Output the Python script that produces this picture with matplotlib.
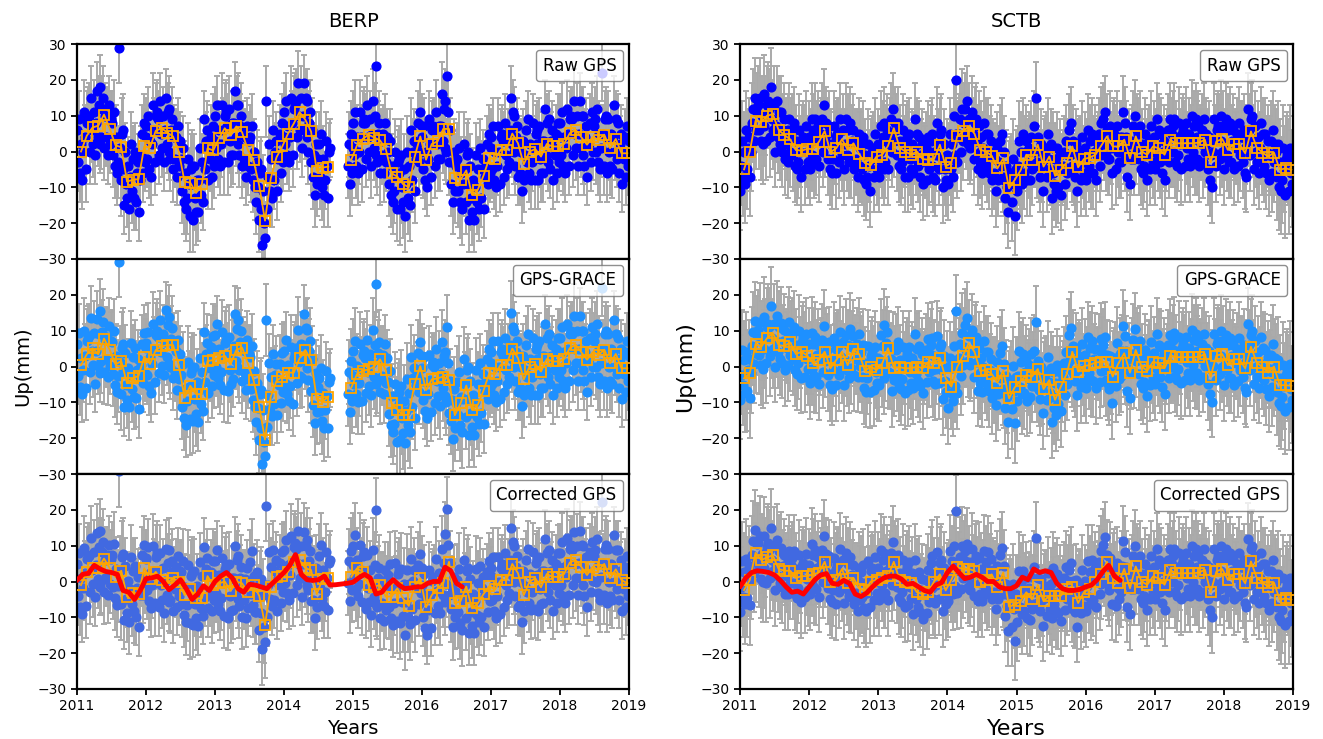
import numpy as np
import matplotlib
matplotlib.use('Agg')
import matplotlib.pyplot as plt
from matplotlib.lines import Line2D

nan = np.nan

# ---------------- monthly means (orange squares), months 1..96 from Jan 2011 ----------------
berp_raw_m = [0, 4.4, 6.7, 7.2, 10.3, 6.4, 1.7, 1.2, -8.4, -7.9,
              -7.7, 1.4, 1.1, 5.8, 6.5, 5.3, 4.2, 0, -8.4, -8.7,
              -11.5, -9.2, 0.9, 0.3, 3.7, 6.5, 4.5, 7, 5.4, 0.5,
              -2.5, -9.6, -19.3, -7.5, -1.6, 1.4, 5, 7.8, 11, 8.9,
              5.6, -5.4, -4.5, -4.2, nan, nan, nan, -2.3, 1.7, 3.5,
              4.7, 3.9, 3.1, 0.7, -6.1, -7, -9.1, -10, -1.6, 4.2,
              -2.3, 2.1, 2.8, 6.3, 6.3, -7.3, -7.9, -5.3, -12.1, -10.7,
              -6.7, -1.9, -2.1, 0.5, 0.5, 5, 2.3, -3.6, 0, 0.7,
              -1.4, 2.1, 1.4, 1.4, 2.1, 5.1, 6.1, 4, 1.9, 4,
              3.3, 4.7, 0.9, 3.5, -0.5, -0.5]
berp_gg_m = [0.4, 3.4, 5.1, 3.4, 7.8, 4.6, 0.6, 1.5, -4.7, -3.3,
             -2.6, 2.7, 0.7, 4.6, 5.6, 6, 6, 0.4, -8.7, -5.4,
             -7.7, -7.7, 1.5, 1.8, 2.5, 3, 0.6, 4.6, 5.3, 0.9,
             -3.8, -11.2, -20.4, -8.4, -4, -2.8, -1.7, -1.7, 2.3, 4.6,
             1.8, -9.1, -9.8, -8.4, nan, nan, nan, -5.9, -2.1, -1.2,
             -0.8, 0, 2, -1, -10.3, -12, -13.6, -13.4, -4.9, 0.1,
             -6.6, -3.6, -3.3, -2.8, -3.7, -13.6, -10.3, -5.3, -12.1, -10.7,
             -6.7, -1.9, -2.1, 0.5, 0.5, 5, 2.3, -3.6, 0, 0.7,
             -1.4, 2.1, 1.4, 1.4, 2.1, 5.1, 6.1, 4, 1.9, 4,
             3.3, 4.7, 0.9, 3.5, -0.5, -0.5]
berp_cor_m = [-1, 2.7, 3.9, 3.8, 6.4, 3.7, 1.2, 3, -4.2, -3.1,
              -3.5, 3.7, 0.6, 2.7, 0.4, -0.5, 0.9, 0, -3.8, -2.2,
              -4.7, -4.7, 1.5, -1, -0.5, 0, -2.6, 0, -0.5, -2.8,
              -1, -4, -12.1, -1.4, 1.3, 1.5, 2.7, 5.5, 6, 3.7,
              3.2, -3.5, 0.6, 0.9, nan, nan, nan, 1.3, 3.7, 2.7,
              -1, -1.4, -1, -4.2, -4.2, -1.9, -4.7, -6.8, -1.4, 0.9,
              -7.2, -3.8, -1.9, -0.5, 5.5, -6.1, -5.5, -1.4, -7.5, -6.1,
              -3.5, -1.3, -2.2, 0.4, 0.4, 4.9, 2.3, -3.8, 0, 0.9,
              -1.6, 2.1, 1.3, 1.3, 2.1, 5.3, 6, 4.1, 1.8, 4.1,
              3.2, 4.9, 0.9, 3.4, 0.4, -0.5]
sctb_raw_m = [-5.0, 0, 8.6, 8.2, 10, 10.4, 6, 4.6, 3.4, 0.5,
              0.2, 0.8, 0.6, 2.7, 5.7, -0.2, 0.9, 3.4, 0.5, 2.3,
              -0.8, -3.2, -3.8, -1.4, -0.9, 1.6, 6.5, 1.1, 0, -0.9,
              0, -2.1, -2.3, -2.1, 1.9, -4.2, -3.1, 4.2, 5.6, 7,
              5, 0.5, 0, -1.2, -4.7, -1.9, -10.3, -7.9, -5.3, -0.9,
              -2.3, 1.9, -4.2, -1.4, -6.8, -5.1, -3.1, 1.4, -4.4, -2.1,
              -1.7, -0.9, 1.6, 4.2, 1.4, 1.4, 3.3, -1.9, 4.2, 0,
              -0.9, 1.4, 0.9, -0.9, 3.1, 2.3, 2.3, 2.3, 2.3, 2.5,
              3.3, -3, 2.8, 3.5, 0.5, 2.1, 2.1, -0.5, 5.6, 1.1,
              -0.3, -1.4, -0.3, -5.1, -4.7, -5.1]
sctb_gg_m = [-3.3, -1.9, 6.3, 5.5, 7.9, 9.3, 6, 5.7, 6.7, 3.5,
             4.1, 3, 0.9, 1.8, 4.1, -0.5, 1.8, 4.1, 0.4, 4.8,
             3.4, -1.2, 0, -1, 0.9, 5.1, -0.3, -0.2, -0.5, -0.5,
             0, -0.5, 1.3, 0.9, 2.3, -3.3, -5.6, -0.2, 3, 6.5,
             4.1, -1.2, -1, -2.1, -4.5, -1.2, -8.9, -5.8, -4, -2.4,
             -2.8, -0.7, -6.3, -3.8, -9.3, -5.6, -2.1, 4.1, -1.4, 0.1,
             0.4, 1.1, 1.3, 1.3, -2.8, 0.9, 3.7, -1.7, 4.6, 0,
             -1.2, 1.3, 0.9, -0.5, 3, 2.6, 2.6, 2.6, 2.6, 2.7,
             3.5, -2.8, 3, 3.5, 0.4, 2, 2, -0.5, 5.5, 1.1,
             -0.2, -1.7, 0, -5.2, -5.2, -5.4]
sctb_cor_m = [-2.4, 0.4, 8, 6, 6.7, 7.3, 3.5, 3, 3, 1,
              1.5, 1.5, 2, 2.5, 5.5, 0, 0.5, 3.5, -0.5, 1,
              -2, -2.5, 0, 0.5, 1, 1.5, 5.5, 0.5, 0, -0.5,
              -3, -3.5, -3, 0, 2, -2.5, 0.5, 4, 3.5, 3.5,
              3, 0, 0.5, 2, -1.5, 2.5, -7, -6.5, -5.5, -3,
              -5, -1, -5.5, -4, -4, -4, -2, -1.5, -6, -3,
              -2, 0, 2, 5.5, 1, -0.5, 3.5, -1.9, 4.2, 0,
              -0.9, 1.4, 0.9, -0.9, 3.1, 2.3, 2.3, 2.3, 2.3, 2.5,
              3.3, -3, 2.8, 3.5, 0.5, 2.1, 2.1, -0.5, 5.6, 1.1,
              -0.3, -1.4, -0.3, -5.1, -4.7, -5.1]

# ---------------- red curves (monthly, from Jan 2011 to mid 2016) ----------------
berp_red = [0.3, 2, 2.3, 4.5, 3.5, 2.8, 2.5, 2, -2.5, -3,
            -5, -2.5, 0.8, 1, 1.5, 0, -2.3, -1, 0.5, -2,
            -5, -3.5, -1.2, -2.5, 0, 1.5, 2.5, 1, -2, -3,
            -0.8, -1, -1.5, -2, -0.5, 1, 2.5, 4.5, 7.5, 2,
            0.5, 0.3, 0.5, 1.5, -1, -0.9, -0.7, -0.5, -0.2, 1,
            2, 1, -3.5, -3, -1, 0.5, -1, -2, -1.8, -1.5,
            -1.5, -0.5, 0, 0, 4, 3, -0.5, -1.5]
sctb_red = [-1.5, 1, 2.5, 3, 2.8, 2.5, 1.8, 0.3, -1.5, -3,
            -2.7, -3.5, -1.5, 0.5, 1.8, 2.2, -0.5, -0.8, 0.3, -0.5,
            -3.5, -4.2, -3.2, -1.5, 0, 1, 1.5, 1.5, 0.7, -0.8,
            -0.5, -1.5, -2.5, -3, -1, -0.3, 2.5, 4.3, 2.5, 0.8,
            1.2, 2, 1.2, 0, 0, -1.5, -2, -2, -1.2, 1.2,
            0.5, 3.5, 2.5, 3, 2.5, -0.5, -2, -2.5, -2.5, -2.2,
            -1.5, -1, 0.5, 2.8, 4.5, 1.5, 0.3]

# ---------------- raw GPS samples (6 per month, mm) ----------------
berp_raw_pts = [
    [6, -3, 9, -6, 2, -8], [0, 11, 4, -5, 8, 9], [10, 0, 15, 6, 2, 11], [-1, 8, 17, 4, 13, 2],
    [18, 4, 12, 15, 1, 10], [4, 10, -1, 13, 2, 9], [8, -1, 11, -4, 4, -6], [-3, 29, 1, -8, 5, 6],
    [-5, -15, 0, -9, -13, -4], [-16, -7, 2, -11, -2, -13], [0, -14, -6, -3, -17, -8], [-1, 5, -6, 8, -3, 4],
    [7, -2, 10, -5, 3, -7], [2, 13, 6, -3, 10, 11], [9, -1, 14, 5, 1, 10], [-3, 6, 15, 2, 11, 0],
    [12, -2, 6, 9, -5, 4], [-2, 4, -7, 7, -4, 3], [-2, -11, 1, -14, -6, -16], [-13, -2, -9, -18, -5, -4],
    [-9, -19, -4, -13, -17, -8], [-17, -8, 1, -12, -3, -14], [9, -5, 3, 6, -8, 1], [-2, 4, -7, 7, -4, 3],
    [10, 1, 13, -2, 6, -4], [2, 13, 6, -3, 10, 11], [7, -3, 12, 3, -1, 8], [-1, 8, 17, 4, 13, 2],
    [13, -1, 7, 10, -4, 5], [-2, 4, -7, 7, -4, 3], [4, -5, 7, -8, 0, -10], [-14, -3, -10, -19, -6, -5],
    [-16, -26, -11, -20, -24, 14], [-16, -7, 2, -11, -2, -13], [6, -8, 0, 3, -11, -2], [-1, 5, -6, 8, -3, 4],
    [11, 2, 14, -1, 7, -3], [4, 15, 8, -1, 12, 13], [14, 4, 19, 10, 6, 15], [1, 10, 19, 6, 15, 4],
    [14, 0, 8, 11, -3, 6], [-7, -1, -12, 2, -9, -2], [2, -7, 5, -10, -2, -12], [-8, 3, -4, -13, 0, 1],
    [], [], [], [-4, 2, -9, 5, -6, 1],
    [8, -1, 11, -4, 4, -6], [0, 11, 4, -5, 8, 9], [8, -2, 13, 4, 0, 9], [-4, 5, 14, 1, 10, -1],
    [24, -3, 5, 8, -6, 3], [-1, 5, -6, 8, -3, 4], [0, -9, 3, -12, -4, -14], [-11, 0, -7, -16, -3, -2],
    [-6, -16, -1, -10, -14, -5], [-18, -9, 0, -13, -4, -15], [6, -8, 0, 3, -11, -2], [2, 8, -3, 11, 0, 7],
    [4, -5, 7, -8, 0, -10], [-2, 9, 2, -7, 6, 7], [6, -4, 11, 2, -2, 7], [-2, 7, 16, 3, 12, 1],
    [14, 0, 21, 11, -3, 6], [-9, -3, -14, 0, -11, -4], [-2, -11, 1, -14, -6, -16], [-9, 2, -5, -14, -1, 0],
    [-9, -19, -4, -13, -17, -8], [-19, -10, -1, -14, -5, -16], [1, -13, -5, -2, -16, -7], [-4, 2, -9, 5, -6, 1],
    [4, -5, 7, -8, 0, -10], [-4, 7, 0, -9, 4, 5], [3, -7, 8, -1, -5, 4], [-3, 6, 15, 2, 11, 0],
    [10, -4, 4, 7, -7, 2], [-6, 0, -11, 3, -8, -1], [6, -3, 9, -6, 2, -8], [-3, 8, 1, -8, 5, 6],
    [2, -8, 7, -2, -6, 3], [-6, 3, 12, -1, 8, -3], [9, -5, 3, 6, -8, 1], [-1, 5, -6, 8, -3, 4],
    [8, -1, 11, -4, 4, -6], [1, 12, 5, -4, 9, 10], [9, -1, 14, 5, 1, 10], [-4, 5, 14, 1, 10, -1],
    [10, -4, 4, 7, -7, 2], [2, 8, -3, 11, 0, 7], [9, 0, 12, -3, 5, -5], [1, 22, 5, -4, 9, 10],
    [4, -6, 9, 0, -4, 5], [-5, 4, 13, 0, 9, -2], [8, -6, 2, 5, -9, 0], [-2, 4, -7, 7, -4, 3],
]
sctb_raw_pts = [
    [-11, -4, 3, -7, 0, -9], [6, -5, 1, 4, -7, 0], [8, 12, 3, 15, 6, 11], [13, 6, 15, 3, 10, 2],
    [7, 16, 10, 3, 13, 14], [12, 4, 18, 9, 6, 13], [0, 7, 14, 4, 11, 2], [11, 0, 6, 9, -2, 5],
    [2, 6, -3, 9, 0, 5], [6, -1, 8, -4, 3, -5], [-3, 6, 0, -7, 3, 4], [3, -5, 7, 0, -3, 4],
    [-5, 2, 9, -1, 6, -3], [9, -2, 4, 7, -4, 3], [5, 9, 0, 13, 3, 8], [5, -2, 7, -5, 2, -6],
    [-2, 7, 1, -6, 4, 5], [5, -3, 9, 2, -1, 6], [-5, 2, 9, -1, 6, -3], [8, -3, 3, 6, -5, 2],
    [-2, 2, -7, 5, -4, 1], [2, -5, 4, -8, -1, -9], [-7, 2, -4, -11, -1, 0], [1, -7, 5, -2, -5, 2],
    [-7, 0, 7, -3, 4, -5], [8, -3, 3, 6, -5, 2], [5, 9, 0, 12, 3, 8], [6, -1, 8, -4, 3, -5],
    [-3, 6, 0, -7, 3, 4], [1, -7, 5, -2, -5, 2], [-6, 1, 9, -2, 5, -4], [4, -7, -1, 2, -9, -2],
    [-3, 1, -8, 4, -5, 0], [3, -4, 5, -7, 0, -8], [-1, 8, 2, -5, 5, 6], [-2, -10, 2, -5, -8, -1],
    [-9, -2, 5, -5, 2, -7], [10, -1, 5, 20, -3, 4], [5, 9, 0, 12, 3, 8], [12, 5, 14, 2, 9, 1],
    [2, 11, 5, -2, 8, 9], [3, -5, 7, 0, -3, 4], [-6, 1, 8, -2, 5, -4], [5, -6, 0, 3, -8, -1],
    [-6, -2, -11, 1, -8, -3], [3, -4, 5, -7, 0, -8], [-13, -4, -10, -17, -7, -6], [-6, -14, -2, -9, -18, -5],
    [-11, -4, 3, -7, 0, -9], [5, -6, 0, 3, -8, -1], [-3, 1, -8, 4, -5, 0], [7, 0, 15, -3, 4, -4],
    [-7, 2, -4, -11, -1, 0], [1, -7, 5, -2, -5, 2], [-13, -6, 1, -9, -2, -11], [1, -10, -4, -1, -12, -5],
    [-4, 0, -9, 3, -6, -1], [6, -1, 8, -4, 3, -5], [-7, 2, -4, -11, -1, 0], [0, -8, 4, -3, -6, 1],
    [-8, -1, 6, -4, 3, -6], [5, -6, 0, 3, -8, -1], [1, 5, -4, 8, -1, 4], [9, 2, 11, -1, 6, -2],
    [-2, 7, 1, -6, 4, 5], [3, -5, 7, 0, -3, 4], [-3, 4, 11, 1, 8, -1], [4, -7, -1, 2, -9, -2],
    [3, 7, -2, 10, 1, 6], [5, -2, 7, -5, 2, -6], [-4, 5, -1, -8, 2, 3], [3, -5, 7, 0, -3, 4],
    [-5, 2, 9, -1, 6, -3], [5, -6, 0, 3, -8, -1], [2, 6, -3, 9, 0, 5], [7, 0, 9, -3, 4, -4],
    [-1, 8, 2, -5, 5, 6], [4, -4, 8, 1, -2, 5], [-4, 3, 10, 0, 7, -2], [9, -2, 4, 7, -4, 3],
    [2, 6, -3, 9, 0, 5], [2, -5, 4, -8, -1, -10], [0, 9, 3, -4, 6, 7], [6, -2, 10, 3, 0, 7],
    [-5, 2, 9, -1, 6, -3], [8, -3, 3, 6, -5, 2], [1, 5, -4, 8, -1, 4], [4, -3, 6, -6, 1, -7],
    [3, 12, 6, -1, 9, 10], [3, -5, 7, 0, -3, 4], [-6, 1, 8, -2, 5, -4], [5, -6, 0, 3, -8, -1],
    [-1, 3, -6, 6, -3, 2], [0, -7, 2, -10, -3, -11], [-8, 1, -5, -12, -2, -1], [-3, -11, 1, -6, -9, -2],
]

# ---------------- 1-sigma uncertainties per month (mm) ----------------
berp_sig = [8, 9, 9, 8, 9, 8, 9, 10, 8, 9, 8, 8,
            8, 9, 8, 8, 9, 8, 9, 10, 9, 8, 8, 9,
            8, 9, 9, 8, 9, 8, 9, 9, 10, 8, 8, 8,
            8, 9, 9, 8, 9, 9, 9, 8, 0, 0, 0, 9,
            9, 9, 8, 9, 9, 8, 9, 9, 10, 10, 9, 9,
            8, 8, 9, 9, 9, 9, 10, 9, 9, 9, 8, 8,
            8, 8, 8, 9, 8, 9, 8, 8, 8, 8, 8, 8,
            8, 8, 9, 8, 8, 8, 9, 8, 8, 8, 8, 8]
sctb_sig = [11, 11, 11, 11, 11, 11, 10, 10, 10, 10, 10, 10,
            10, 10, 10, 10, 10, 10, 10, 10, 10, 10, 10, 10,
            10, 10, 10, 10, 10, 10, 10, 10, 10, 10, 10, 10,
            10, 10, 11, 10, 10, 10, 10, 10, 10, 10, 10, 11,
            11, 10, 10, 10, 10, 10, 10, 10, 10, 10, 10, 10,
            10, 10, 10, 10, 10, 10, 10, 10, 10, 10, 10, 10,
            10, 10, 10, 10, 10, 10, 10, 10, 10, 10, 10, 10,
            10, 10, 10, 10, 10, 10, 10, 10, 11, 12, 12, 12]

titles = ['BERP', 'SCTB']
panel_labels = ['Raw GPS', 'GPS-GRACE', 'Corrected GPS']
year_ticks = list(range(2011, 2020))


def sample_arrays(pts, sig, shift):
    xs, ys, es = [], [], []
    for j, row in enumerate(pts):
        n = len(row)
        for i, v in enumerate(row):
            xs.append(2011 + (j + (i + 0.5) / n) / 12.0)
            ys.append(v - shift[j])
            es.append(sig[j])
    return np.array(xs), np.array(ys), np.array(es)


fig = plt.figure(figsize=(13.23, 7.39), dpi=100)
W, H = 1323.0, 739.0
col_left = [77 / W, 740 / W]
col_w = [552 / W, 553 / W]
row_bottom = [1 - 259 / H, 1 - 474 / H, 1 - 689 / H]
row_h = 215 / H

stations = [
    (berp_raw_pts, berp_sig, [berp_raw_m, berp_gg_m, berp_cor_m], berp_red),
    (sctb_raw_pts, sctb_sig, [sctb_raw_m, sctb_gg_m, sctb_cor_m], sctb_red),
]
dot_colors = ['blue', 'dodgerblue', 'royalblue']
label_sizes = [14, 16]

month_x = 2011 + (np.arange(1, 97) - 0.3) / 12.0

for c, (pts, sig, means, red) in enumerate(stations):
    raw_m = np.array(means[0], dtype=float)
    for r in range(3):
        ax = fig.add_axes([col_left[c], row_bottom[r], col_w[c], row_h])
        pm = np.array(means[r], dtype=float)
        shift = np.nan_to_num(raw_m - pm)
        xs, ys, es = sample_arrays(pts, sig, shift)
        ax.errorbar(xs, ys, yerr=es, fmt='o', ms=6.3, color=dot_colors[r],
                    ecolor='darkgrey', elinewidth=1.4, capsize=2, capthick=1.4, zorder=1)
        ax.plot(month_x, pm, '-s', color='orange', mfc='none', mec='orange',
                ms=7.5, mew=1.3, lw=1.3, zorder=3)
        if r == 2:
            rx = 2011 + np.arange(len(red)) / 12.0
            ax.plot(rx, red, color='red', lw=3.5, zorder=4, solid_capstyle='round')
        ax.set_xlim(2011, 2019)
        ax.set_ylim(-30, 30)
        if r == 0:
            ax.set_yticks(np.arange(-30, 31, 10))
            ax.set_title(titles[c], fontsize=14, pad=12)
        else:
            ax.set_yticks(np.arange(-30, 21, 10))
        ax.set_xticks(year_ticks)
        if r < 2:
            ax.tick_params(axis='x', bottom=False, labelbottom=False)
        else:
            ax.set_xlabel('Years', fontsize=label_sizes[c])
        if r == 1:
            ax.set_ylabel('Up(mm)', fontsize=label_sizes[c])
        ax.tick_params(labelsize=10, width=1.3, length=4)
        for s in ax.spines.values():
            s.set_linewidth(1.6)
        leg = ax.legend([Line2D([], [], linestyle='none')], [panel_labels[r]],
                        loc='upper right', handlelength=0, handletextpad=0,
                        fontsize=12, borderaxespad=0.35)
        leg.get_frame().set_edgecolor('0.45')
        leg.set_zorder(10)

fig.savefig('out.png', dpi=100)
